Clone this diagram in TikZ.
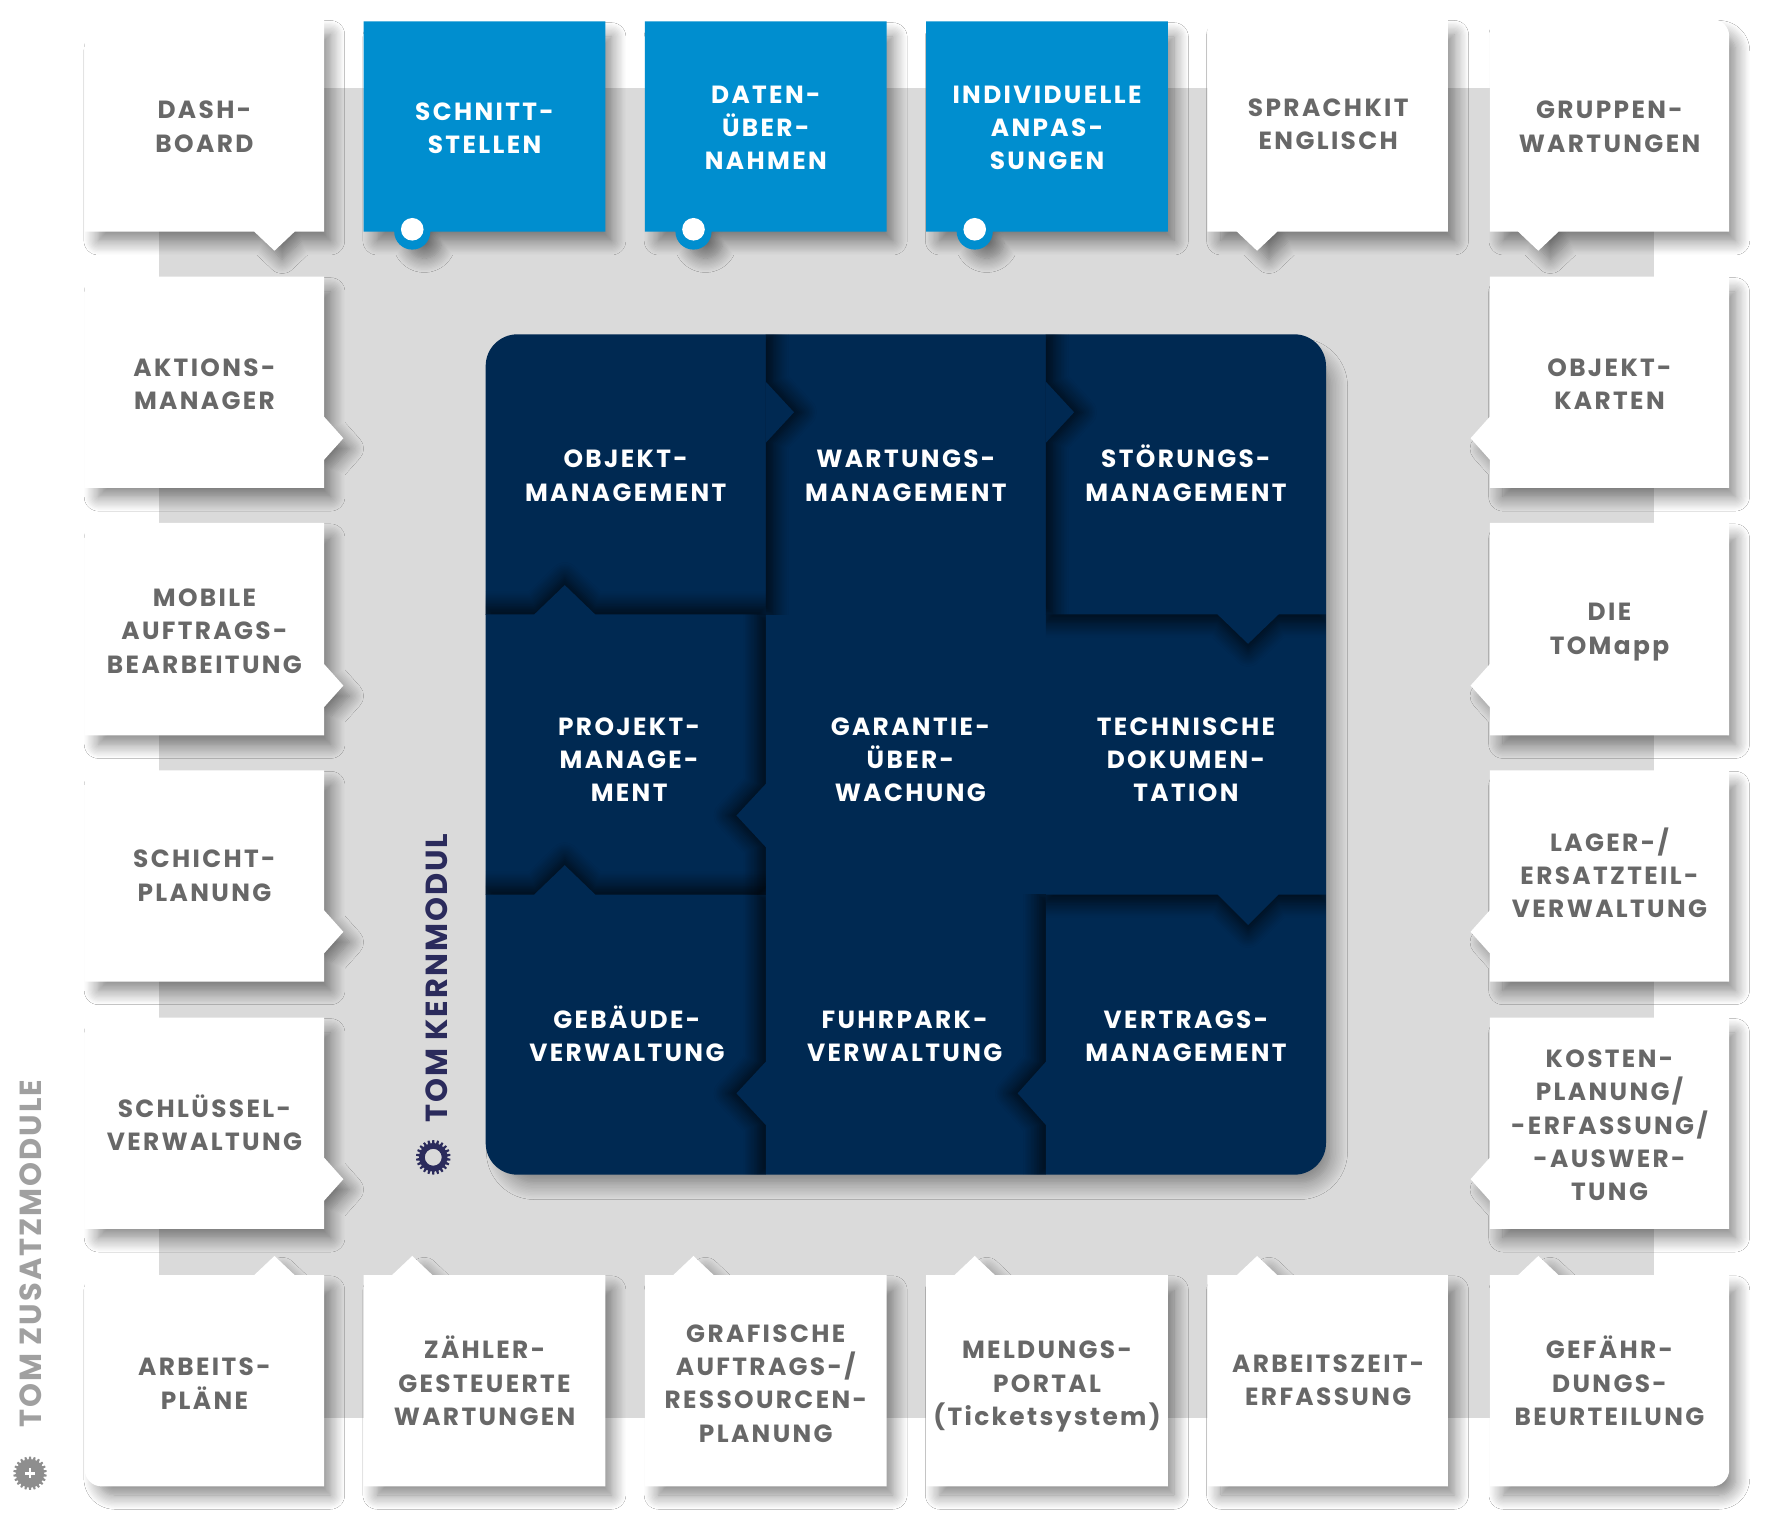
\documentclass[tikz,border=0pt]{standalone}
\usepackage{fontspec}
\newfontfamily\boxfam{Poppins}[LetterSpace=9.5]
\newfontfamily\sidefam{Poppins}[LetterSpace=6.5]
\usetikzlibrary{shadows.blur}
\definecolor{bgray}{RGB}{218,218,218}
\definecolor{tgray}{RGB}{104,104,104}
\definecolor{tblue}{RGB}{0,142,207}
\definecolor{navy}{RGB}{0,41,82}
\definecolor{indigo}{RGB}{43,43,92}
\definecolor{lgray}{RGB}{160,160,160}
\definecolor{ggray}{RGB}{142,142,142}
\newcommand\labfont{\boxfam\bfseries\fontsize{22}{29.5}\selectfont}
\newcommand\sidefont{\sidefam\bfseries\fontsize{27}{30}\selectfont}
\newcommand\Ln[1]{\smash{#1}}
% box paths: #1 left, #2 top, #3 right, #4 bottom, #5 pointer position
\newcommand\BoxDown[5]{(#1,#2) -- (#3,#2) -- (#3,#4) -- (#5+18,#4) -- (#5,#4+17) -- (#5-18,#4) -- (#1,#4) -- cycle}
\newcommand\BoxUp[5]{(#1,#2) -- (#5-18,#2) -- (#5,#2-17) -- (#5+18,#2) -- (#3,#2) -- (#3,#4) -- (#1,#4) -- cycle}
\newcommand\BoxRight[5]{(#1,#2) -- (#3,#2) -- (#3,#5-19) -- (#3+17,#5) -- (#3,#5+19) -- (#3,#4) -- (#1,#4) -- cycle}
\newcommand\BoxLeft[5]{(#1,#2) -- (#3,#2) -- (#3,#4) -- (#1,#4) -- (#1,#5+19) -- (#1-17,#5) -- (#1,#5-19) -- cycle}
\newcommand\BlueBox[2]{(#1,19) -- (#2,19) -- (#2,205) -- (#1+59,205) arc[start angle=0,end angle=180,radius=16] -- (#1,205) -- cycle}
\newcommand\cellshade[3]{\begin{scope}\clip[rounded corners=28pt] (430,296) rectangle (1174,1040);\clip #1;\fill[navy,#3] #2;\end{scope}}
\tikzset{
  boxshadow/.style={blur shadow={shadow xshift=9pt,shadow yshift=-11pt,shadow scale=0.97,shadow blur radius=13pt,shadow opacity=50,shadow blur steps=12}},
  whitebox/.style={fill=white,boxshadow},
  bluebox/.style={fill=tblue,boxshadow},
  csh/.style 2 args={blur shadow={shadow xshift=#1,shadow yshift=#2,shadow blur radius=13pt,shadow opacity=75,shadow blur steps=10}},
  lbl/.style={font=\labfont,align=center,inner sep=0pt,text=tgray},
  wlbl/.style={lbl,text=white},
  sidelbl/.style={font=\sidefont,inner sep=0pt,rotate=90},
}
\begin{document}
\begin{tikzpicture}[x=1pt,y=-1pt]
\useasboundingbox (0,0) rectangle (1568,1352.8);
\fill[white] (0,0) rectangle (1568,1352.8);
\fill[bgray] (141,78) rectangle (1464,1255);
% ---------- top row ----------
\fill[whitebox] (75,205) -- (75,32) arc[start angle=180,end angle=270,radius=15] -- (287,17) -- (287,205) -- (261,205) -- (243,222) -- (225,205) -- cycle;
\fill[bluebox] \BlueBox{322}{536};
\fill[bluebox] \BlueBox{571}{785};
\fill[bluebox] \BlueBox{820}{1034};
\foreach \cx in {365,614,863} \fill[white] (\cx,203) circle[radius=10];
\fill[whitebox] \BoxDown{1069}{17}{1282}{205}{1113};
\fill[whitebox] (1319,17) -- (1516,17) arc[start angle=270,end angle=360,radius=15] -- (1531,205) -- (1380,205) -- (1362,222) -- (1344,205) -- (1319,205) -- cycle;
% ---------- left column ----------
\fill[whitebox] \BoxRight{75}{245}{287}{432}{388};
\fill[whitebox] \BoxRight{75}{463}{287}{651}{607};
\fill[whitebox] \BoxRight{75}{682}{287}{869}{825};
\fill[whitebox] \BoxRight{75}{901}{287}{1088}{1044};
% ---------- right column ----------
\fill[whitebox] \BoxLeft{1319}{245}{1531}{432}{388};
\fill[whitebox] \BoxLeft{1319}{463}{1531}{651}{607};
\fill[whitebox] \BoxLeft{1319}{682}{1531}{869}{825};
\fill[whitebox] \BoxLeft{1319}{901}{1531}{1088}{1044};
% ---------- bottom row ----------
\fill[whitebox] (75,1129) -- (225,1129) -- (243,1112) -- (261,1129) -- (287,1129) -- (287,1316) -- (90,1316) arc[start angle=90,end angle=180,radius=15] -- cycle;
\fill[whitebox] \BoxUp{322}{1129}{536}{1316}{365};
\fill[whitebox] \BoxUp{571}{1129}{785}{1316}{614};
\fill[whitebox] \BoxUp{820}{1129}{1034}{1316}{863};
\fill[whitebox] \BoxUp{1069}{1129}{1282}{1316}{1113};
\fill[whitebox] (1319,1129) -- (1344,1129) -- (1362,1112) -- (1380,1129) -- (1531,1129) -- (1531,1301) arc[start angle=0,end angle=90,radius=15] -- (1319,1316) -- cycle;
% ---------- core ----------
\fill[navy,rounded corners=28pt,blur shadow={shadow xshift=10pt,shadow yshift=-13pt,shadow scale=0.985,shadow blur radius=15pt,shadow opacity=45,shadow blur steps=12}] (430,296) rectangle (1174,1040);
\cellshade{(678,296) rectangle (926,544)}{(430,296) -- (678,296) -- (678,338) -- (703,365) -- (678,392) -- (678,544) -- (430,544) -- cycle}{csh={7pt}{0pt}}
\cellshade{(926,296) rectangle (1174,544)}{(678,296) -- (926,296) -- (926,338) -- (951,365) -- (926,392) -- (926,544) -- (678,544) -- cycle}{csh={7pt}{0pt}}
\cellshade{(430,296) rectangle (678,544)}{(430,544) -- (473,544) -- (500,518) -- (527,544) -- (678,544) -- (678,792) -- (430,792) -- cycle}{csh={0pt}{7pt}}
\cellshade{(926,544) rectangle (1174,792)}{(926,296) -- (1174,296) -- (1174,544) -- (1132,544) -- (1105,570) -- (1078,544) -- (926,544) -- cycle}{csh={0pt}{-7pt}}
\cellshade{(430,544) rectangle (678,792)}{(678,544) -- (926,544) -- (926,792) -- (678,792) -- (678,750) -- (652,722) -- (678,694) -- cycle}{csh={-7pt}{0pt}}
\cellshade{(430,544) rectangle (678,792)}{(430,792) -- (473,792) -- (500,766) -- (527,792) -- (678,792) -- (678,1040) -- (430,1040) -- cycle}{csh={0pt}{7pt}}
\cellshade{(926,792) rectangle (1174,1040)}{(926,544) -- (1174,544) -- (1174,792) -- (1132,792) -- (1105,819) -- (1078,792) -- (926,792) -- cycle}{csh={0pt}{-7pt}}
\cellshade{(430,792) rectangle (678,1040)}{(678,792) -- (926,792) -- (926,1040) -- (678,1040) -- (678,996) -- (652,968) -- (678,940) -- cycle}{csh={-7pt}{0pt}}
\cellshade{(678,792) rectangle (926,1040)}{(926,792) -- (1174,792) -- (1174,1040) -- (926,1040) -- (926,996) -- (901,968) -- (926,940) -- cycle}{csh={-7pt}{0pt}}
% ---------- core labels ----------
\node[wlbl] (objm) at (554,429) {\Ln{OBJEKT-}\\\Ln{MANAGEMENT}};
\node[wlbl] (wartm) at (802,429) {\Ln{WARTUNGS-}\\\Ln{MANAGEMENT}};
\node[wlbl] (stoerm) at (1050,429) {\Ln{STÖRUNGS-}\\\Ln{MANAGEMENT}};
\node[wlbl] (projm) at (557,680.5) {\Ln{PROJEKT-}\\\Ln{MANAGE-}\\\Ln{MENT}};
\node[wlbl] (garue) at (806,680.5) {\Ln{GARANTIE-}\\\Ln{ÜBER-}\\\Ln{WACHUNG}};
\node[wlbl] (techd) at (1050,680.5) {\Ln{TECHNISCHE}\\\Ln{DOKUMEN-}\\\Ln{TATION}};
\node[wlbl] (gebv) at (555,925.5) {\Ln{GEBÄUDE-}\\\Ln{VERWALTUNG}};
\node[wlbl] (fuhrv) at (801,925.5) {\Ln{FUHRPARK-}\\\Ln{VERWALTUNG}};
\node[wlbl] (vertm) at (1050,925.5) {\Ln{VERTRAGS-}\\\Ln{MANAGEMENT}};
% ---------- box labels ----------
\node[lbl] (dash) at (181,120) {\Ln{DASH-}\\\Ln{BOARD}};
\node[wlbl] (schn) at (429,121.5) {\Ln{SCHNITT-}\\\Ln{STELLEN}};
\node[wlbl] (daten) at (678,121) {\Ln{DATEN-}\\\Ln{ÜBER-}\\\Ln{NAHMEN}};
\node[wlbl] (indiv) at (927,121) {\Ln{INDIVIDUELLE}\\\Ln{ANPAS-}\\\Ln{SUNGEN}};
\node[lbl] (sprach) at (1176,118) {\Ln{SPRACHKIT}\\\Ln{ENGLISCH}};
\node[lbl] (grupp) at (1425,120) {\Ln{GRUPPEN-}\\\Ln{WARTUNGEN}};
\node[lbl] (aktion) at (181,348) {\Ln{AKTIONS-}\\\Ln{MANAGER}};
\node[lbl] (mobil) at (181,566.5) {\Ln{MOBILE}\\\Ln{AUFTRAGS-}\\\Ln{BEARBEITUNG}};
\node[lbl] (schicht) at (181,783) {\Ln{SCHICHT-}\\\Ln{PLANUNG}};
\node[lbl] (schluess) at (181,1004) {\Ln{SCHLÜSSEL-}\\\Ln{VERWALTUNG}};
\node[lbl] (objk) at (1425,348) {\Ln{OBJEKT-}\\\Ln{KARTEN}};
\node[lbl] (tomapp) at (1425,564.5) {\Ln{DIE}\\\Ln{TOMapp}};
\node[lbl] (lager) at (1425,783) {\Ln{LAGER-/}\\\Ln{ERSATZTEIL-}\\\Ln{VERWALTUNG}};
\node[lbl] (kosten) at (1425,1004) {\Ln{KOSTEN-}\\\Ln{PLANUNG/}\\\Ln{-ERFASSUNG/}\\\Ln{-AUSWER-}\\\Ln{TUNG}};
\node[lbl] (arbp) at (181,1233) {\Ln{ARBEITS-}\\\Ln{PLÄNE}};
\node[lbl] (zaehl) at (429,1232.5) {\Ln{ZÄHLER-}\\\Ln{GESTEUERTE}\\\Ln{WARTUNGEN}};
\node[lbl] (graf) at (678,1232.5) {\Ln{GRAFISCHE}\\\Ln{AUFTRAGS-/}\\\Ln{RESSOURCEN-}\\\Ln{PLANUNG}};
\node[lbl] (meld) at (927,1232.5) {\Ln{MELDUNGS-}\\\Ln{PORTAL}\\\Ln{(Ticketsystem)}};
\node[lbl] (azeit) at (1176,1230) {\Ln{ARBEITSZEIT-}\\\Ln{ERFASSUNG}};
\node[lbl] (gefahr) at (1425,1232.5) {\Ln{GEFÄHR-}\\\Ln{DUNGS-}\\\Ln{BEURTEILUNG}};
% ---------- side labels and gears ----------
\node[sidelbl,text=indigo] (kern) at (386.5,866) {TOM KERNMODUL};
\node[sidelbl,text=lgray] (zusatz) at (27.5,1110) {TOM ZUSATZMODULE};
\begin{scope}[shift={(383.6,1024.6)}]
\fill[indigo,even odd rule] (0:12.5) \foreach \i in {0,...,21} { -- ({\i*360/22+3}:12.5) -- ({\i*360/22+5}:15.3) -- ({\i*360/22+11.4}:15.3) -- ({\i*360/22+13.4}:12.5) } -- cycle (0,0) circle[radius=7.5];
\end{scope}
\begin{scope}[shift={(26.6,1304.4)}]
\fill[ggray] (0:12.5) \foreach \i in {0,...,21} { -- ({\i*360/22+3}:12.5) -- ({\i*360/22+5}:14.8) -- ({\i*360/22+11.4}:14.8) -- ({\i*360/22+13.4}:12.5) } -- cycle;
\fill[white] (-4.5,-1.2) rectangle (4.5,1.2);
\fill[white] (-1.2,-4.5) rectangle (1.2,4.5);
\end{scope}
\end{tikzpicture}
\end{document}
